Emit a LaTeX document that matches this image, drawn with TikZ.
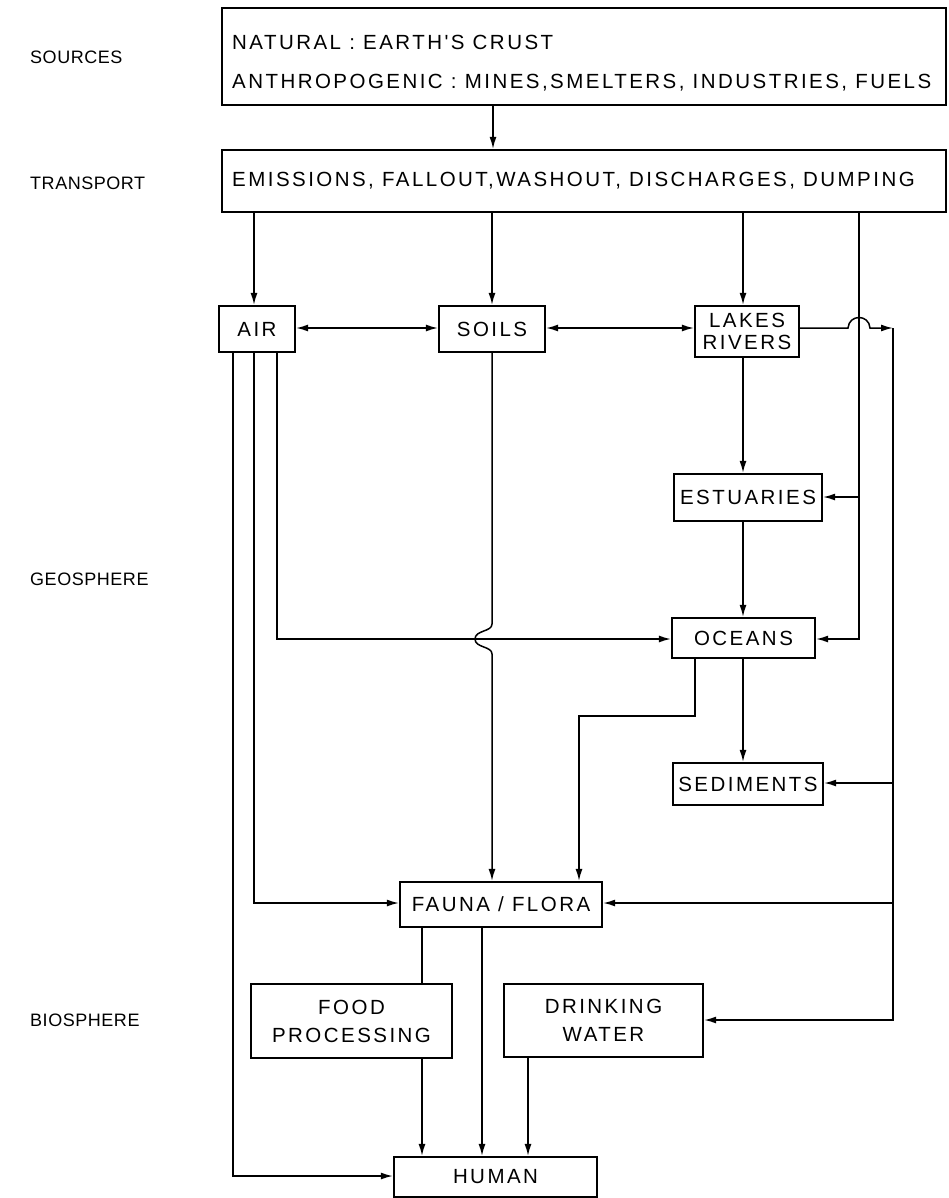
\documentclass[tikz,border=0pt]{standalone}
\usepackage{fontspec}
\setmainfont{Liberation Sans}
\newfontfamily\boxfont{Liberation Sans}[LetterSpace=12]
\newfontfamily\labfont{Liberation Sans}[LetterSpace=3]
\usetikzlibrary{arrows.meta}
\begin{document}
\begin{tikzpicture}[x=1pt,y=-1pt,
  box/.style={draw, line width=2.3pt, inner sep=0pt, font=\boxfont\fontsize{20.5}{22}\selectfont, align=center},
  txt/.style={inner sep=0pt, anchor=west, font=\boxfont\fontsize{20.5}{22}\selectfont},
  lab/.style={inner sep=0pt, anchor=west, font=\labfont\fontsize{18}{20}\selectfont},
  con/.style={line width=1.5pt},
  arr/.style={con, -{Latex[length=12pt,width=7pt]}},
  darr/.style={con, {Latex[length=12pt,width=7pt]}-{Latex[length=12pt,width=7pt]}}]
\useasboundingbox (0,0) rectangle (948,1198);

% side labels
\node[lab] (lsrc) at (30,57) {SOURCES};
\node[lab] (ltr) at (30,183) {TRANSPORT};
\node[lab] (lgeo) at (30,579) {GEOSPHERE};
\node[lab] (lbio) at (30,1020) {BIOSPHERE};

% boxes
\node[box, minimum width=724pt, minimum height=97pt] (sources) at (584,56.5) {};
\node[txt] (src1) at (232,42) {NATURAL : EARTH'S CRUST};
\node[txt] (src2) at (232,83) {ANTHROPOGENIC : MINES,SMELTERS, INDUSTRIES, FUELS};
\node[box, minimum width=724pt, minimum height=62pt] (transport) at (584,181) {};
\node[txt] (tr1) at (232,181) {EMISSIONS, FALLOUT,WASHOUT, DISCHARGES, DUMPING};

\node[box, minimum width=76pt, minimum height=46pt] (air) at (257,329) {AIR};
\node[box, minimum width=106pt, minimum height=46pt] (soils) at (492,329) {SOILS};
\node[box, minimum width=104pt, minimum height=51pt] (lakes) at (747,331.5) {LAKES\\RIVERS};
\node[box, minimum width=148pt, minimum height=47pt] (estuaries) at (748,497.5) {ESTUARIES};
\node[box, minimum width=143pt, minimum height=40pt] (oceans) at (743.5,638) {OCEANS};
\node[box, minimum width=150pt, minimum height=42pt] (sediments) at (748,784) {SEDIMENTS};
\node[box, minimum width=202pt, minimum height=45pt] (fauna) at (501,904.5) {FAUNA / FLORA};
\node[box, minimum width=201pt, minimum height=74pt] (food) at (351.5,1021) {FOOD\\[6pt]PROCESSING};
\node[box, minimum width=199pt, minimum height=73pt] (drinking) at (603.5,1020.5) {DRINKING\\[6pt]WATER};
\node[box, minimum width=203pt, minimum height=40pt] (human) at (495.5,1177) {HUMAN};

% helper coordinates
\coordinate (xsrc) at (493,0);
\coordinate (xa1) at (233,0);
\coordinate (xa2) at (254,0);
\coordinate (xa3) at (277,0);
\coordinate (xs) at (492,0);
\coordinate (xl) at (743,0);
\coordinate (xt) at (859,0);
\coordinate (xr) at (893,0);
\coordinate (xo) at (695,0);
\coordinate (xf) at (579,0);
\coordinate (xfd) at (422,0);
\coordinate (xfh) at (482,0);
\coordinate (xdh) at (528,0);
\coordinate (ya) at (0,328);
\coordinate (yo) at (0,639);
\coordinate (yo2) at (0,716);
\coordinate (ye) at (0,497);
\coordinate (ysd) at (0,783);
\coordinate (yfa) at (0,903);
\coordinate (yh) at (0,1176);
\coordinate (ydw) at (0,1020);

% connectors
\draw[arr] (sources.south -| xsrc) -- (transport.north -| xsrc);
\draw[arr] (transport.south -| xa2) -- (air.north -| xa2);
\draw[arr] (transport.south -| xs) -- (soils.north -| xs);
\draw[arr] (transport.south -| xl) -- (lakes.north -| xl);
\draw[arr] (transport.south -| xt) -- (xt |- yo) -- (oceans.east |- yo);
\draw[arr] (xt |- ye) -- (estuaries.east |- ye);

\draw[darr] (air.east |- ya) -- (soils.west |- ya);
\draw[darr] (soils.east |- ya) -- (lakes.west |- ya);
\coordinate (hop) at (xt |- ya);
\draw[arr] (lakes.east |- ya) -- ([xshift=-11pt]hop) .. controls ([xshift=-10pt,yshift=14pt]hop) and ([xshift=10pt,yshift=14pt]hop) .. ([xshift=11pt]hop) -- (xr |- ya);
\draw[arr] (xr |- ya) -- (xr |- ydw) -- (drinking.east |- ydw);
\draw[arr] (xr |- ysd) -- (sediments.east |- ysd);
\draw[arr] (xr |- yfa) -- (fauna.east |- yfa);

\draw[arr] (lakes.south -| xl) -- (estuaries.north -| xl);
\draw[arr] (estuaries.south -| xl) -- (oceans.north -| xl);
\draw[arr] (oceans.south -| xl) -- (sediments.north -| xl);
\draw[arr] (oceans.south -| xo) -- (xo |- yo2) -- (xf |- yo2) -- (fauna.north -| xf);
\draw[arr] (air.south -| xa3) -- (xa3 |- yo) -- (oceans.west |- yo);
\coordinate (sh) at (xs |- yo);
\draw[arr] (soils.south -| xs) -- ([yshift=15pt]sh) .. controls ([yshift=7pt]sh) and ([xshift=-17pt,yshift=9pt]sh) .. ([xshift=-17pt]sh) .. controls ([xshift=-17pt,yshift=-9pt]sh) and ([yshift=-7pt]sh) .. ([yshift=-15pt]sh) -- (fauna.north -| xs);
\draw[arr] (air.south -| xa2) -- (xa2 |- yfa) -- (fauna.west |- yfa);
\draw[arr] (air.south -| xa1) -- (xa1 |- yh) -- (human.west |- yh);
\draw[con] (fauna.south -| xfd) -- (food.north -| xfd);
\draw[arr] (food.south -| xfd) -- (human.north -| xfd);
\draw[arr] (fauna.south -| xfh) -- (human.north -| xfh);
\draw[arr] (drinking.south -| xdh) -- (human.north -| xdh);
\end{tikzpicture}
\end{document}
